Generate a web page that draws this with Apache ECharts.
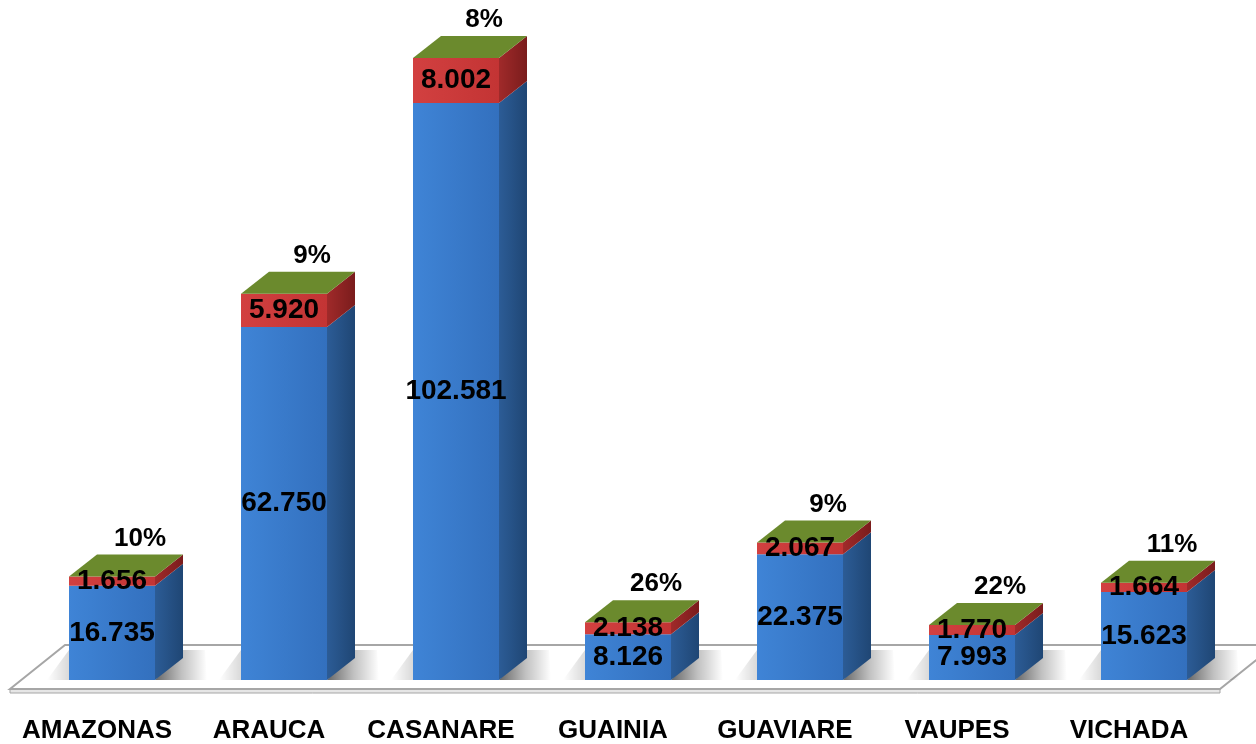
<!DOCTYPE html>
<html>
<head>
<meta charset="utf-8">
<script src="https://cdn.jsdelivr.net/npm/echarts@6/dist/echarts.min.js"></script>
<style>
  html, body { margin: 0; padding: 0; background: #fff; }
  #chart { width: 1256px; height: 744px; }
</style>
</head>
<body>
<div id="chart"></div>
<script>
// data
var categories = ['AMAZONAS', 'ARAUCA', 'CASANARE', 'GUAINIA', 'GUAVIARE', 'VAUPES', 'VICHADA'];
var baseValues = [16735, 62750, 102581, 8126, 22375, 7993, 15623];
var topValues = [1656, 5920, 8002, 2138, 2067, 1770, 1664];
var percentLabels = ['10%', '9%', '8%', '26%', '9%', '22%', '11%'];

var DX = 28, DY = 22; // 3d depth of the bars in px
var FONT = 'Liberation Sans, Arial, sans-serif';

function fmt(v) {
    return String(v).replace(/\B(?=(\d{3})+(?!\d))/g, '.');
}

function hGrad(a, b) {
    return new echarts.graphic.LinearGradient(0, 0, 1, 0, [{offset: 0, color: a}, {offset: 1, color: b}]);
}

var blueData = [], redData = [];
for (var i = 0; i < categories.length; i++) {
    blueData.push([i, 0, baseValues[i]]);
    redData.push([i, baseValues[i], baseValues[i] + topValues[i]]);
}

function cube(api, front, side, top, label, pct) {
    var idx = api.value(0);
    var p0 = api.coord([idx, api.value(1)]);
    var p1 = api.coord([idx, api.value(2)]);
    var w = api.size([1, 0])[0] * 0.5;
    var x0 = p0[0] - w / 2, x1 = p0[0] + w / 2;
    var yb = p0[1], yt = p1[1];
    var kids = [
        {type: 'rect', shape: {x: x0, y: yt, width: w, height: yb - yt}, style: {fill: front}},
        {type: 'polygon', shape: {points: [[x1, yb], [x1 + DX, yb - DY], [x1 + DX, yt - DY], [x1, yt]]}, style: {fill: side}}
    ];
    if (top) {
        kids.push({type: 'polygon', shape: {points: [[x0, yt], [x1, yt], [x1 + DX, yt - DY], [x0 + DX, yt - DY]]}, style: {fill: top}});
    }
    kids.push({type: 'text', z2: 10, style: {text: label, x: p0[0], y: (yb + yt) / 2, align: 'center', verticalAlign: 'middle',
        fill: '#000', font: 'bold 28px ' + FONT}});
    if (pct) {
        kids.push({type: 'text', z2: 10, style: {text: pct, x: p0[0] + 28, y: yt - DY - 16, align: 'center', verticalAlign: 'middle',
            fill: '#000', font: 'bold 26px ' + FONT}});
    }
    return {type: 'group', children: kids};
}

var chart = echarts.init(document.getElementById('chart'));
chart.setOption({
    animation: false,
    grid: {left: 26, right: 26, top: 5, bottom: 64},
    xAxis: {
        type: 'category',
        data: categories,
        axisLine: {show: false},
        axisTick: {show: false},
        axisLabel: {interval: 0, margin: 38, fontSize: 26, fontWeight: 'bold', color: '#000', fontFamily: FONT,
            padding: [0, 30, 0, 0]}
    },
    yAxis: {
        type: 'value', min: 0, max: 120000, show: false, splitLine: {show: false}
    },
    series: [
        {
            // floor slab
            type: 'custom',
            z: 1,
            data: [[0]],
            silent: true,
            renderItem: function (params, api) {
                var cs = params.coordSys;
                var yF = cs.y + cs.height + 9;
                var xl = cs.x - 16, xr = cs.x + cs.width - 10;
                var kids = [
                    {type: 'polygon', shape: {points: [[xl, yF], [xr, yF], [xr, yF + 4], [xl, yF + 4]]},
                        style: {fill: '#e6e6e6', stroke: '#a6a6a6', lineWidth: 1}},
                    {type: 'polygon', shape: {points: [[xl, yF], [xl + 55, yF - 44], [xr + 55, yF - 44], [xr, yF]]},
                        style: {fill: '#fff', stroke: '#a6a6a6', lineWidth: 2}}
                ];
                // soft shadows of the bars on the floor
                for (var k = 0; k < categories.length; k++) {
                    var c = api.coord([k, 0]);
                    var w = api.size([1, 0])[0] * 0.5;
                    var x1 = c[0] + w / 2;
                    kids.push({type: 'polygon', shape: {points: [[x1, c[1]], [x1 + DX, c[1] - DY - 8], [x1 + DX + 22, c[1] - DY - 8], [x1 + 52, c[1]]]},
                        style: {fill: new echarts.graphic.LinearGradient(0, 0, 1, 0, [
                            {offset: 0, color: 'rgba(0,0,0,0.6)'}, {offset: 0.5, color: 'rgba(0,0,0,0.25)'},
                            {offset: 1, color: 'rgba(0,0,0,0)'}])}});
                    kids.push({type: 'polygon', shape: {points: [[c[0] - w / 2 - 22, c[1]], [c[0] - w / 2, c[1] - DY - 8], [c[0] - w / 2, c[1]]]},
                        style: {fill: new echarts.graphic.LinearGradient(0, 0, 1, 0, [
                            {offset: 0, color: 'rgba(0,0,0,0)'}, {offset: 1, color: 'rgba(0,0,0,0.15)'}])}});
                }
                return {type: 'group', children: kids};
            }
        },
        {
            type: 'custom',
            name: 'base',
            z: 2,
            data: blueData,
            renderItem: function (params, api) {
                return cube(api, hGrad('#3f84d6', '#3370be'), hGrad('#2c5c96', '#1f4674'), null,
                    fmt(baseValues[params.dataIndex]), null);
            }
        },
        {
            type: 'custom',
            name: 'top',
            z: 3,
            data: redData,
            renderItem: function (params, api) {
                return cube(api, hGrad('#d24040', '#c33434'), hGrad('#a02a2a', '#7a1c1c'), '#6b8a2d',
                    fmt(topValues[params.dataIndex]), percentLabels[params.dataIndex]);
            }
        }
    ]
});
</script>
</body>
</html>
